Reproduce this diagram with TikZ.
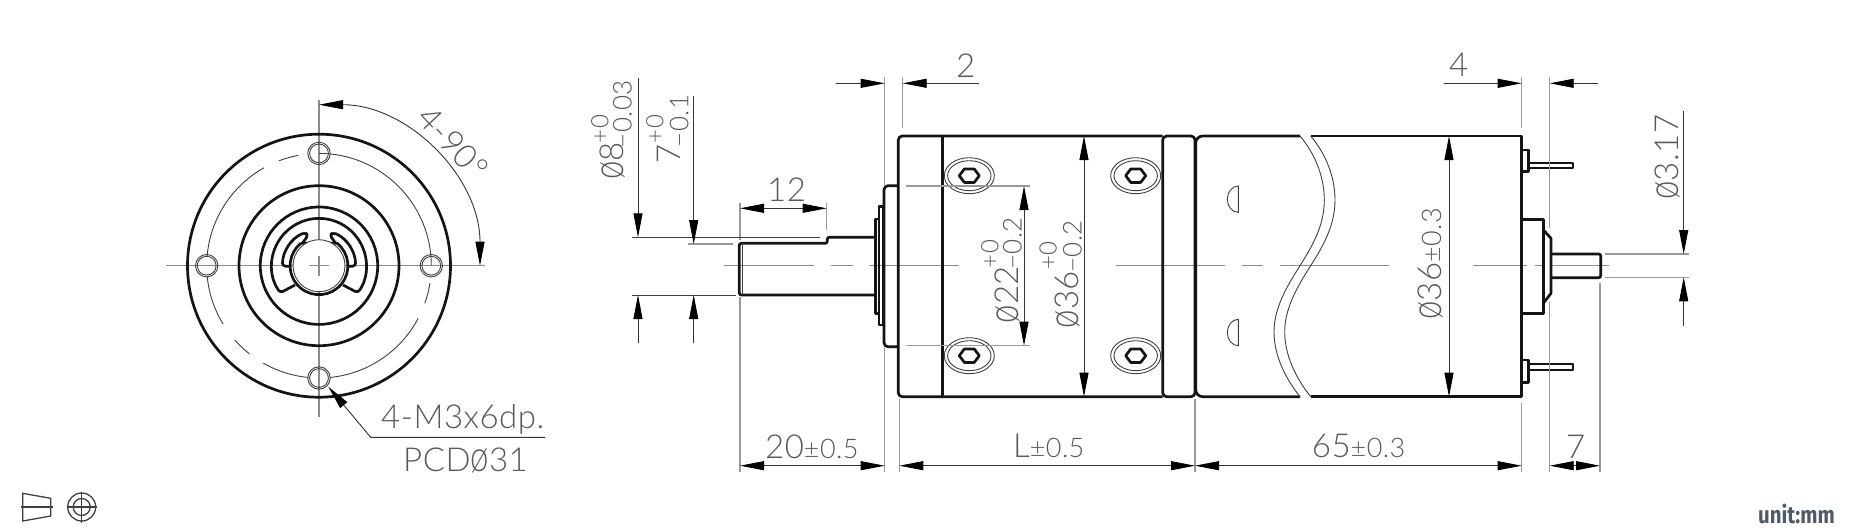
\documentclass[tikz,border=0pt]{standalone}
\usepackage{fontspec}
\usetikzlibrary{arrows.meta,calc}
\newfontfamily\dimfont[LetterSpace=1.5]{Lato Light}
\newfontfamily\unitfont[FakeStretch=0.85]{Fira Sans}
\definecolor{unitgray}{HTML}{4F5A66}
\newcommand{\mainsize}{\fontsize{33}{33}\selectfont}
\newcommand{\tolsize}{\fontsize{27}{27}\selectfont}
\newcommand{\lowsize}{\fontsize{26}{26}\selectfont}
\newcommand{\upsize}{\fontsize{24}{24}\selectfont}
\newcommand{\dia}{\scalebox{1}[1.3]{ø}}
\tikzset{
	outline/.style = {draw=black!92, line width=2.7pt, line join=round},
	thinline/.style = {draw=black!75, line width=0.9pt},
	extline/.style = {draw=gray!80, line width=1.2pt},
	centerline/.style = {draw=gray!90, line width=1.5pt},
	dimline/.style = {draw=black!80, line width=0.9pt, >={Triangle[length=24pt,width=9pt,color=black]}},
	dimtext/.style = {font=\dimfont\mainsize, text=black!65, inner sep=0pt, anchor=base west},
	dimup/.style = {dimtext, font=\dimfont\upsize, rotate=90},
	dimlow/.style = {dimtext, font=\dimfont\lowsize, rotate=90},
	dimrot/.style = {dimtext, rotate=90},
	pics/screwhead/.style = {code={
			\draw[thinline] (0,0) ellipse [x radius=25,y radius=18];
			\draw[thinline] (0,0) ellipse [x radius=21.7,y radius=15];
			\draw[outline] (-10,0) -- (-5,-6.7) -- (5,-6.7) -- (10,0) -- (5,6.7) -- (-5,6.7) -- cycle;
		}}
}
\begin{document}
\begin{tikzpicture}[x=1pt,y=-1pt]
	\useasboundingbox (0,0) rectangle (1850,531);
	% front view
	\begin{scope}[shift={(319,265.7)}]
		\draw[centerline] (-153,0) -- (166,0);
		\draw[centerline] (0,-166) -- (0,151);
		\draw[outline] (0,0) circle [radius=131.5];
		\draw[outline] (0,0) circle [radius=80];
		\draw[outline] (0,0) circle [radius=58.7];
		\draw[outline, rounded corners=3pt] (-24,19.3) -- (-38.7,27.1) arc [start angle=145,end angle=395,radius=47.3] -- (24,19.3);
		\foreach \s in {-1,1}{
			\draw[outline, rounded corners=3pt, xscale=\s] (-29,0.5) -- (-36.5,0.5) arc [start angle=180,end angle=247,radius=36.5] -- (-10.7,-30.7) -- (-16.7,-22.3);
		}
		\draw[outline] (-18.2,-22.4) -- (18.2,-22.4) arc [start angle=-51,end angle=231,radius=28.9];
		\draw[thinline, fill=white] (0,0) circle [radius=26];
		\draw[centerline] (-10,0) -- (10,0) (0,-10) -- (0,10);
		\foreach \a in {0,90,180,270}{
			\draw[thinline] (\a:112.3) circle [radius=11.2];
			\draw[thinline] (\a:112.3) circle [radius=9.4];
		}
		\foreach \a/\b in {-90/0,-111/-100.6,-175.3/-119.3,-211.4/-185.7,-231.8/-221.5,-264.5/-240.3,-332/-275.7,-351/-340.4}{
			\draw[thinline] (\a:112.3) arc [start angle=\a,end angle=\b,radius=112.3];
		}
		\draw[dimline,<->] (-90:161) arc [start angle=-90,end angle=0,radius=161];
	\end{scope}
	\node[dimtext, anchor=center, rotate=-47] (angletxt) at (453,143) {4-90°};
	\draw[dimline,->] (545,437.3) -- (370.7,437.3) -- (328.3,386.7);
	\node[dimtext] (holetxt) at (381,428) {4-M3x6dp.};
	\node[dimtext] (pcdtxt) at (403,471.5) {PCD\dia31};
	% side view, center line
	\foreach \a/\b in {724/814,830.7/852.7,869.3/959,1116/1225,1241.7/1262.7,1280/1389.3,1473.3/1526.7,1535/1545,1551.7/1609.3}{
		\draw[centerline] (\a,265.7) -- (\b,265.7);
	}
	% shaft and flange
	\draw[outline, rounded corners=2pt] (875.7,237.3) -- (827.3,237.3) -- (827.3,243.3) -- (739.3,243.3) -- (739.3,295) -- (875.7,295);
	\draw[thinline] (742.7,243.3) -- (742.7,295);
	\draw[outline] (875.7,219) rectangle (879,313.3);
	\draw[outline] (879,206.7) rectangle (883,325);
	\draw[outline, rounded corners=4pt] (898.3,185.7) -- (884,185.7) -- (884,346.7) -- (898.3,346.7);
	% gearhead
	\draw[outline, rounded corners=4pt] (1162.7,136) -- (898.3,136) -- (898.3,396.7) -- (1162.7,396.7);
	\draw[outline] (942.3,136) -- (942.3,396.7);
	\draw[outline, rounded corners=4pt] (1162.7,136) rectangle (1195,396.7);
	\foreach \x/\y in {969.3/175.7,969.3/355.7,1135.7/175.7,1135.7/355.7}{
		\pic at (\x,\y) {screwhead};
	}
	% motor
	\draw[outline, rounded corners=7pt] (1300,136) -- (1195.7,136) -- (1195.7,396.7) -- (1300,396.7);
	\draw[outline] (1310.7,136) -- (1521.7,136) -- (1521.7,396.7) -- (1310.7,396.7);
	\foreach \s in {0,10.7}{
		\draw[thinline, xshift=\s] (1300,136) .. controls (1316,155) and (1324.3,178) .. (1324.3,200) .. controls (1324.3,225) and (1313,245) .. (1300,265.7) .. controls (1287,286) and (1274,308) .. (1274,331.7) .. controls (1274,355) and (1285,378) .. (1300,396.7);
	}
	\foreach \y in {186,319.3}{
		\draw[thinline] (1238.3,\y) arc [start angle=-90,end angle=-270,x radius=11,y radius=13.2] -- cycle;
	}
	\draw[outline] (1521.7,219.3) -- (1543.3,219.3) -- (1543.3,313.3) -- (1521.7,313.3);
	\draw[outline] (1543.3,230) -- (1551,238.3) -- (1551,293.3) -- (1543.3,303.3);
	\draw[outline, rounded corners=2pt] (1551,254) -- (1600.7,254) -- (1600.7,277.7) -- (1551,277.7);
	\draw[outline] (1521.7,150) rectangle (1528.3,171.7);
	\draw[outline] (1521.7,360) rectangle (1528.3,382.7);
	\draw[outline, line width=2pt, line cap=round] (1528.3,162.7) -- (1573.3,162.7) -- (1573.3,168.3) -- (1528.3,168.3);
	\draw[outline, line width=2pt, line cap=round] (1528.3,364) -- (1573.3,364) -- (1573.3,370) -- (1528.3,370);
	% extension lines
	\foreach \x/\a/\b in {884.7/77/185,884.7/348/471.7,902.7/77/128,740/202.7/240,740/296.7/471.7,826.7/202.7/230,899.3/399/471.7,1195/399/471.7,1521.7/77/128,1521.7/403/471.7,1549.7/77/228,1549.7/301.7/471.7,1600/282.7/471.7}{
		\draw[extline] (\x,\a) -- (\x,\b);
	}
	\draw[thinline] (632.3,237.3) -- (820,237.3);
	\draw[thinline] (632.3,295) -- (736,295);
	\draw[extline] (688,244) -- (733,244);
	\draw[extline] (906,186) -- (1030,186);
	\draw[extline] (906,345.7) -- (1030,345.7);
	\draw[extline] (1605,254) -- (1689.3,254);
	\draw[extline] (1605,277.3) -- (1689.3,277.3);
	% dimensions
	\draw[dimline,->] (835.7,83.3) -- (884.7,83.3);
	\draw[dimline,->] (979.3,83.3) -- (902.7,83.3);
	\node[dimtext] (twotxt) at (956,77) {2};
	\draw[dimline,->] (1444,83.3) -- (1521.7,83.3);
	\draw[dimline,->] (1598.3,83.3) -- (1549.7,83.3);
	\node[dimtext] (fourtxt) at (1449,76) {4};
	\draw[dimline,<->] (740,208.3) -- (826.7,208.3);
	\node[dimtext] (twelvetxt) at (767,201.7) {12};
	\draw[dimline,<->] (740,465.7) -- (884.7,465.7);
	\node[dimtext] (shafttxt) at (765,458) {20{\tolsize ±0.5}};
	\draw[dimline,<->] (899.3,465.7) -- (1195,465.7);
	\node[dimtext] (lengthtxt) at (1013,457) {L{\tolsize ±0.5}};
	\draw[dimline,<->] (1195,465.7) -- (1521.7,465.7);
	\node[dimtext] (motortxt) at (1311.7,457) {65{\tolsize ±0.3}};
	\draw[dimline,<->] (1549.7,465.7) -- (1600,465.7);
	\node[dimtext] (seventxt) at (1566,458) {7};
	% diameters
	\draw[dimline,->] (638,78.3) -- (638,237.3);
	\draw[dimline,->] (638,343.3) -- (638,295);
	\node[dimrot] (shaftdia) at (623.3,180) {\dia8};
	\node[dimup] (shaftup) at (608.3,143.3) {+0};
	\node[dimlow] (shaftlow) at (631.7,148.3) {−0.03};
	\draw[dimline,->] (693.7,96) -- (693.7,244);
	\draw[dimline,->] (693.7,343.3) -- (693.7,295);
	\node[dimrot] (flatdim) at (680,163.3) {7};
	\node[dimup] (flatup) at (663.3,143.3) {+0};
	\node[dimlow] (flatlow) at (688.3,147.3) {−0.1};
	\draw[dimline,<->] (1024,186) -- (1024,345.7);
	\node[dimrot] (bossdia) at (1018.3,323.3) {\dia22};
	\node[dimup] (bossup) at (998.3,268.3) {+0};
	\node[dimlow] (bosslow) at (1021.7,270) {−0.2};
	\draw[dimline,<->] (1084,136) -- (1084,396.7);
	\node[dimrot] (gearDia) at (1078.3,328.3) {\dia36};
	\node[dimup] (gearup) at (1056.7,270) {+0};
	\node[dimlow] (gearlow) at (1081.7,273) {−0.2};
	\draw[dimline,<->] (1449,136) -- (1449,396.7);
	\node[dimrot] (motordia) at (1441.7,320) {\dia36{\tolsize ±0.3}};
	\draw[dimline,->] (1683.7,110.7) -- (1683.7,254);
	\draw[dimline,->] (1683.7,325.7) -- (1683.7,277.3);
	\node[dimrot] (pindia) at (1678.3,200) {\dia3.17};
	% projection symbol
	\draw[thinline, line width=1.3pt] (22.7,493.3) -- (50.7,498.3) -- (50.7,516) -- (22.7,521) -- cycle;
	\draw[thinline, line width=1.3pt] (20.7,507) -- (52.7,507);
	\draw[thinline, line width=1.3pt] (81.7,507) circle [radius=14];
	\draw[thinline, line width=1.3pt] (81.7,507) circle [radius=8.5];
	\draw[thinline, line width=1.3pt] (66.7,507) -- (96.7,507) (81.7,491.5) -- (81.7,522.5);
	\node[inner sep=0pt, anchor=base east, text=unitgray, font=\unitfont\bfseries\fontsize{24}{24}\selectfont] (unittxt) at (1835,523) {unit:mm};
\end{tikzpicture}
\end{document}
